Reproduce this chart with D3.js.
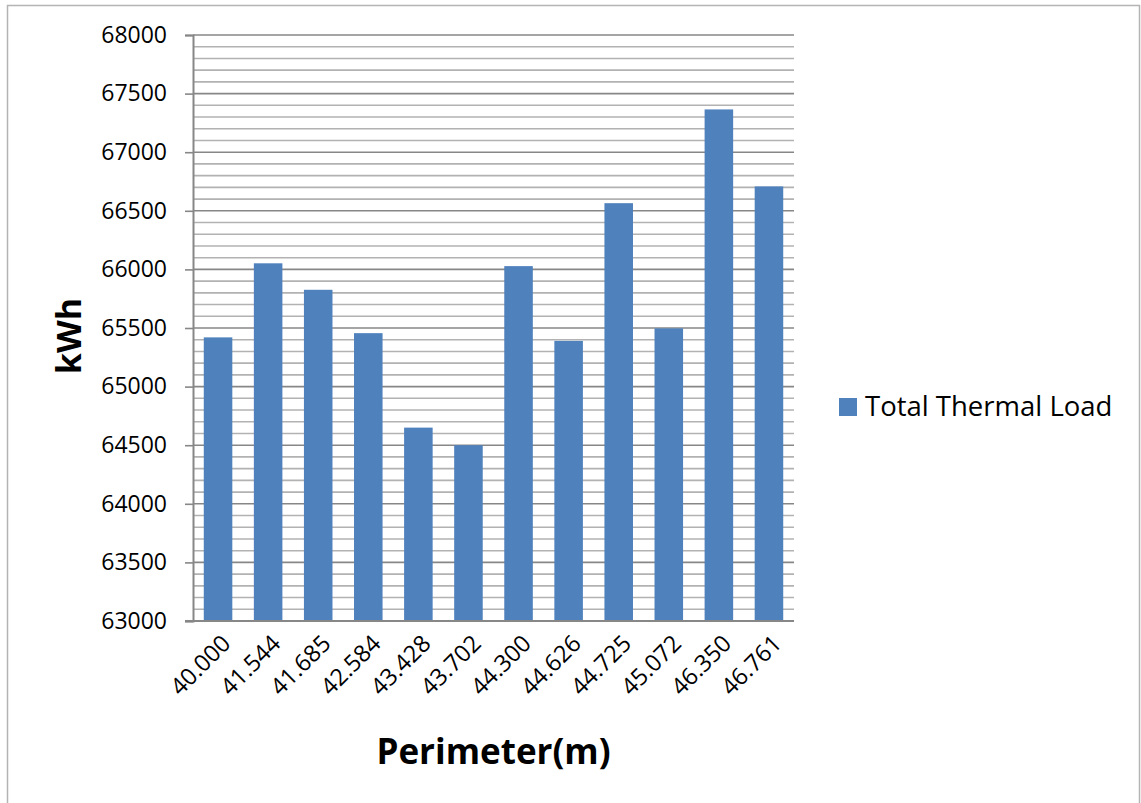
<!DOCTYPE html>
<html>
<head>
<meta charset="utf-8">
<script src="https://cdn.jsdelivr.net/npm/d3@7"></script>
<style>
  html, body { margin: 0; padding: 0; background: #fff; }
  svg { display: block; font-family: "Open Sans", Lato, sans-serif; }
</style>
</head>
<body>
<svg id="chart" width="1141" height="803"></svg>
<script>
// Perimeter categories (m) and the total thermal load for each (kWh)
const perimeters = ["40.000", "41.544", "41.685", "42.584", "43.428", "43.702",
                    "44.300", "44.626", "44.725", "45.072", "46.350", "46.761"];
const thermalLoad = [65420, 66052, 65826, 65456, 64650, 64500,
                     66028, 65390, 66565, 65497, 67365, 66708];
const yTicks = [63000, 63500, 64000, 64500, 65000, 65500, 66000, 66500, 67000, 67500, 68000];
const seriesName = "Total Thermal Load";
const xTitle = "Perimeter(m)";
const yTitle = "kWh";

const svg = d3.select("#chart");
const plot = { left: 193, right: 794, top: 35, bottom: 621 };

// outer chart frame
svg.append("rect")
  .attr("x", 7.5).attr("y", 5.5)
  .attr("width", 1132).attr("height", 800)
  .attr("fill", "none").attr("stroke", "#b4b4b4").attr("stroke-width", 1.5);

const x = d3.scaleBand()
  .domain(perimeters)
  .range([plot.left, plot.right])
  .paddingInner(0.43)
  .paddingOuter(0.215);

const y = d3.scaleLinear()
  .domain([63000, 68000])
  .range([plot.bottom, plot.top]);

// minor gridlines every 100 kWh
const minor = d3.range(63100, 68000, 100).filter(v => v % 500 !== 0);
svg.append("g").selectAll("line").data(minor).join("line")
  .attr("x1", plot.left).attr("x2", plot.right)
  .attr("y1", d => y(d)).attr("y2", d => y(d))
  .attr("stroke", "#b2b2b2").attr("stroke-width", 1.6);

// major gridlines every 500 kWh
svg.append("g").selectAll("line").data(yTicks).join("line")
  .attr("x1", plot.left).attr("x2", plot.right)
  .attr("y1", d => y(d)).attr("y2", d => y(d))
  .attr("stroke", "#878787").attr("stroke-width", 1.6);

// bars
svg.append("g").selectAll("rect").data(perimeters).join("rect")
  .attr("x", d => x(d))
  .attr("width", x.bandwidth())
  .attr("y", (d, i) => y(thermalLoad[i]))
  .attr("height", (d, i) => y(63000) - y(thermalLoad[i]))
  .attr("fill", "#4f81bd");

// y axis
const yAxis = d3.axisLeft(y).tickValues(yTicks).tickSize(8).tickPadding(18)
  .tickFormat(d3.format("d"));
const gy = svg.append("g").attr("transform", `translate(${plot.left},0)`).call(yAxis);
gy.select(".domain").attr("stroke", "#878787").attr("stroke-width", 2);
gy.selectAll(".tick line").attr("stroke", "#878787").attr("stroke-width", 1.6);
gy.selectAll(".tick text").attr("font-size", 23).attr("fill", "#000")
  .attr("font-family", "'Open Sans', sans-serif");

// x axis baseline and rotated category labels
const xAxis = d3.axisBottom(x).tickSize(0).tickPadding(0);
const gx = svg.append("g").attr("transform", `translate(0,${plot.bottom})`).call(xAxis);
gx.select(".domain").attr("stroke", "#878787").attr("stroke-width", 2)
  .attr("d", `M${plot.left - 8},0H${plot.right}`);
gx.selectAll(".tick text")
  .attr("font-size", 23.5).attr("fill", "#000")
  .attr("font-family", "'Open Sans', sans-serif")
  .attr("text-anchor", "end")
  .attr("dy", 0)
  .attr("transform", "translate(14,24) rotate(-45)");

// axis titles
svg.append("text")
  .attr("x", (plot.left + plot.right) / 2).attr("y", 764)
  .attr("text-anchor", "middle")
  .attr("font-size", 35).attr("font-weight", "bold")
  .text(xTitle);

svg.append("text")
  .attr("transform", `translate(81,${(plot.top + plot.bottom) / 2 + 8}) rotate(-90)`)
  .attr("text-anchor", "middle")
  .attr("font-size", 34).attr("font-weight", "bold")
  .text(yTitle);

// legend
const legend = svg.append("g").attr("transform", "translate(839,398)");
legend.append("rect").attr("width", 18).attr("height", 18).attr("fill", "#4f81bd");
legend.append("text").attr("x", 26).attr("y", 18)
  .attr("font-size", 27.5).attr("fill", "#000")
  .text(seriesName);
</script>
</body>
</html>
